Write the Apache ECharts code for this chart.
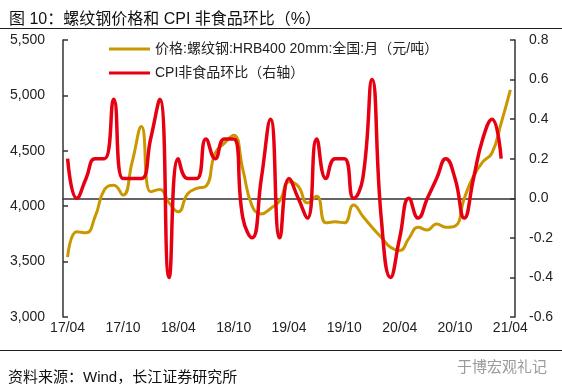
<!DOCTYPE html>
<html>
<head>
<meta charset="utf-8">
<script src="https://cdn.jsdelivr.net/npm/echarts@6/dist/echarts.min.js"></script>
<style>
html,body{margin:0;padding:0;background:#fff;}
#chart{width:562px;height:390px;}
</style>
</head>
<body>
<div id="chart"></div>
<script>
const months = ['17/04','17/05','17/06','17/07','17/08','17/09','17/10','17/11','17/12',
  '18/01','18/02','18/03','18/04','18/05','18/06','18/07','18/08','18/09','18/10','18/11','18/12',
  '19/01','19/02','19/03','19/04','19/05','19/06','19/07','19/08','19/09','19/10','19/11','19/12',
  '20/01','20/02','20/03','20/04','20/05','20/06','20/07','20/08','20/09','20/10','20/11','20/12',
  '21/01','21/02','21/03','21/04'];

const rebarPrice = [3540,3770,3760,3910,4150,4190,4100,4400,4720,
  4130,4150,4030,3950,4110,4160,4180,4480,4570,4640,4330,4000,
  3930,3980,4050,4220,4180,4030,4090,3850,3860,3850,4010,3910,
  3810,3720,3630,3600,3710,3810,3785,3840,3810,3820,4070,4270,
  4400,4480,4750,5050];

const cpiNonFood = [0.2,0.0,0.1,0.2,0.2,0.5,0.1,0.1,0.1,
  0.3,0.5,-0.4,0.2,0.1,0.1,0.3,0.2,0.3,0.3,-0.1,-0.2,
  0.1,0.4,-0.2,0.1,0.0,-0.1,0.3,0.1,0.2,0.2,0.0,0.1,
  0.6,-0.1,-0.4,-0.2,0.0,-0.1,0.0,0.1,0.2,0.1,-0.1,0.1,
  0.3,0.4,0.2];

const seriesNames = ['价格:螺纹钢:HRB400 20mm:全国:月（元/吨）', 'CPI非食品环比（右轴）'];
const titleText = '图 10：螺纹钢价格和 CPI 非食品环比（%）';
const sourceText = '资料来源：Wind，长江证券研究所';
const watermarkText = '于博宏观礼记';

const FONT = '"Liberation Sans", "Noto Sans CJK SC", sans-serif';
const axisLineStyle = {color: '#333', width: 1.5};

const chart = echarts.init(document.getElementById('chart'), null, {renderer: 'canvas'});
chart.setOption({
  backgroundColor: '#fff',
  animation: false,
  title: [
    {text: titleText, left: 4, top: 7,
     textStyle: {fontFamily: FONT, fontSize: 16, fontWeight: 'normal', color: '#111'}},
    {text: sourceText, left: 3, top: 365,
     textStyle: {fontFamily: FONT, fontSize: 15, fontWeight: 'normal', color: '#111'}},
    {text: watermarkText, left: 452, top: 355,
     textStyle: {fontFamily: FONT, fontSize: 15, fontWeight: 'normal', color: '#9a9a9a'}}
  ],
  graphic: [
    {type: 'line', shape: {x1: 0, y1: 28.5, x2: 562, y2: 28.5}, style: {stroke: '#222', lineWidth: 1}},
    {type: 'line', shape: {x1: 0, y1: 350.5, x2: 562, y2: 350.5}, style: {stroke: '#222', lineWidth: 1}}
  ],
  legend: {
    orient: 'vertical', left: 104, top: 36,
    itemWidth: 41, itemHeight: 3, itemGap: 8,
    icon: 'rect',
    textStyle: {fontFamily: FONT, fontSize: 14, color: '#222', lineHeight: 16},
    data: seriesNames
  },
  grid: {left: 63, right: 47, top: 40, bottom: 73, containLabel: false},
  xAxis: {
    type: 'category', data: months, boundaryGap: true,
    axisLine: {lineStyle: axisLineStyle},
    axisTick: {inside: true, length: 5, interval: 5, lineStyle: axisLineStyle},
    axisLabel: {interval: 5, margin: 4, fontFamily: FONT, fontSize: 14, color: '#222'},
    splitLine: {show: false}
  },
  yAxis: [
    {type: 'value', min: 3000, max: 5500, interval: 500, position: 'left',
     axisLine: {show: true, lineStyle: axisLineStyle},
     axisTick: {show: true, inside: true, length: 5, lineStyle: axisLineStyle},
     axisLabel: {margin: 18, fontFamily: FONT, fontSize: 14, color: '#222',
       formatter: v => v.toLocaleString('en-US')},
     splitLine: {show: false}},
    {type: 'value', min: -0.6, max: 0.8, interval: 0.2, position: 'right',
     axisLine: {show: true, lineStyle: axisLineStyle},
     axisTick: {show: true, inside: true, length: 5, lineStyle: axisLineStyle},
     axisLabel: {margin: 14, fontFamily: FONT, fontSize: 14, color: '#222',
       formatter: v => v.toFixed(1)},
     splitLine: {show: false}}
  ],
  series: [
    {name: seriesNames[0], type: 'line', yAxisIndex: 0, data: rebarPrice,
     smooth: 0.5, showSymbol: false, symbol: 'none',
     lineStyle: {color: '#C99700', width: 3}, itemStyle: {color: '#C99700'}},
    {name: seriesNames[1], type: 'line', yAxisIndex: 1, data: cpiNonFood,
     smooth: 0.5, showSymbol: false, symbol: 'none',
     lineStyle: {color: '#E60012', width: 3.5}, itemStyle: {color: '#E60012'}}
  ]
});
</script>
</body>
</html>
